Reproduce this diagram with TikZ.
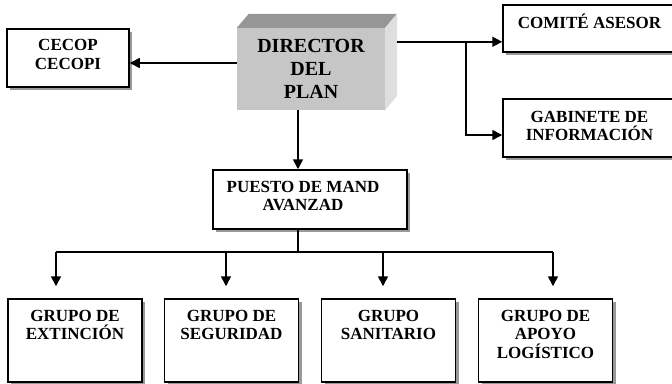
\documentclass[tikz,border=0pt]{standalone}
\usepackage{fontspec}
\setmainfont{Liberation Serif}
\usetikzlibrary{arrows.meta,shadows}

\definecolor{frente}{RGB}{198,198,198}
\definecolor{arriba}{RGB}{150,150,150}
\definecolor{lado}{RGB}{222,222,222}

\begin{document}
\begin{tikzpicture}[x=1pt, y=-1pt,
  caja/.style={draw, line width=1.5pt, fill=white, inner sep=0pt,
    drop shadow={shadow xshift=3pt, shadow yshift=-3pt, fill=black!40, opacity=1}},
  grupo/.style={caja, minimum width=134pt, minimum height=83pt},
  rotulo/.style={anchor=north, align=center, inner sep=0pt,
    font=\fontsize{17}{18.5}\selectfont\bfseries},
  director/.style={fill=frente, minimum width=148pt, minimum height=82pt, inner sep=0pt,
    align=center, font=\fontsize{20}{23}\selectfont\bfseries},
  linea/.style={line width=1.5pt},
  flecha/.style={line width=1.5pt, -{Triangle[length=10pt, width=10pt]}}]
  \useasboundingbox (0, 0) rectangle (672, 383);

  \node[director] (dir) at (311, 69) {DIRECTOR\\DEL\\PLAN};
  \fill[arriba] (dir.north west) -- ++(12, -14) -- ++(148, 0) -- (dir.north east) -- cycle;
  \fill[lado] (dir.north east) -- ++(12, -14) -- ++(0, 82) -- (dir.south east) -- cycle;

  \node[caja, minimum width=122pt, minimum height=58pt,
    label={[rotulo, yshift=-11pt]north:CECOP\\CECOPI}] (cecop) at (68, 58) {};
  \node[caja, minimum width=173pt, minimum height=47pt,
    label={[rotulo, yshift=-9pt]north:COMITÉ ASESOR}] (comite) at (589.5, 28.5) {};
  \node[caja, minimum width=173pt, minimum height=58pt,
    label={[rotulo, yshift=-12.5pt]north:GABINETE DE\\INFORMACIÓN}] (gabinete) at (589.5, 128) {};
  \node[caja, minimum width=194pt, minimum height=59pt,
    label={[rotulo, yshift=-11.5pt, xshift=-7pt]north:PUESTO DE MAND\\AVANZAD}] (puesto) at (310, 199.5) {};

  \node[grupo, label={[rotulo, yshift=-11.5pt]north:GRUPO DE\\EXTINCIÓN}] (ext) at (75, 340.5) {};
  \node[grupo, label={[rotulo, yshift=-11.5pt]north:GRUPO DE\\SEGURIDAD}] (seg) at (231.5, 340.5) {};
  \node[grupo, label={[rotulo, yshift=-11.5pt]north:GRUPO\\SANITARIO}] (san) at (388.5, 340.5) {};
  \node[grupo, label={[rotulo, yshift=-11.5pt]north:GRUPO DE\\APOYO\\LOGÍSTICO}] (apo) at (545.5, 340.5) {};

  \coordinate (dirR) at ([shift={(12, 14)}]dir.north east);
  \coordinate (rama) at (466, 42);
  \coordinate (barra) at (298, 252);

  \draw[flecha] ([yshift=6pt]dir.west) -- ([yshift=6pt]dir.west -| cecop.east);
  \draw[flecha] (dirR) -- (dirR -| comite.west);
  \draw[flecha] (rama) |- ([yshift=-7pt]gabinete.west);
  \draw[flecha] ([xshift=-13pt]dir.south) -- ([xshift=-13pt]dir.south |- puesto.north);
  \draw[linea] (puesto.south -| barra) -- (barra);
  \foreach \g/\x in {ext/56, seg/226, san/383, apo/553}
  {
  \coordinate (b\g) at (\x, 252);
  \draw[flecha, shorten >=12pt] (b\g) -- (b\g |- \g.north);
  }
  \draw[linea] (bext) -- (bapo);

\end{tikzpicture}
\end{document}
